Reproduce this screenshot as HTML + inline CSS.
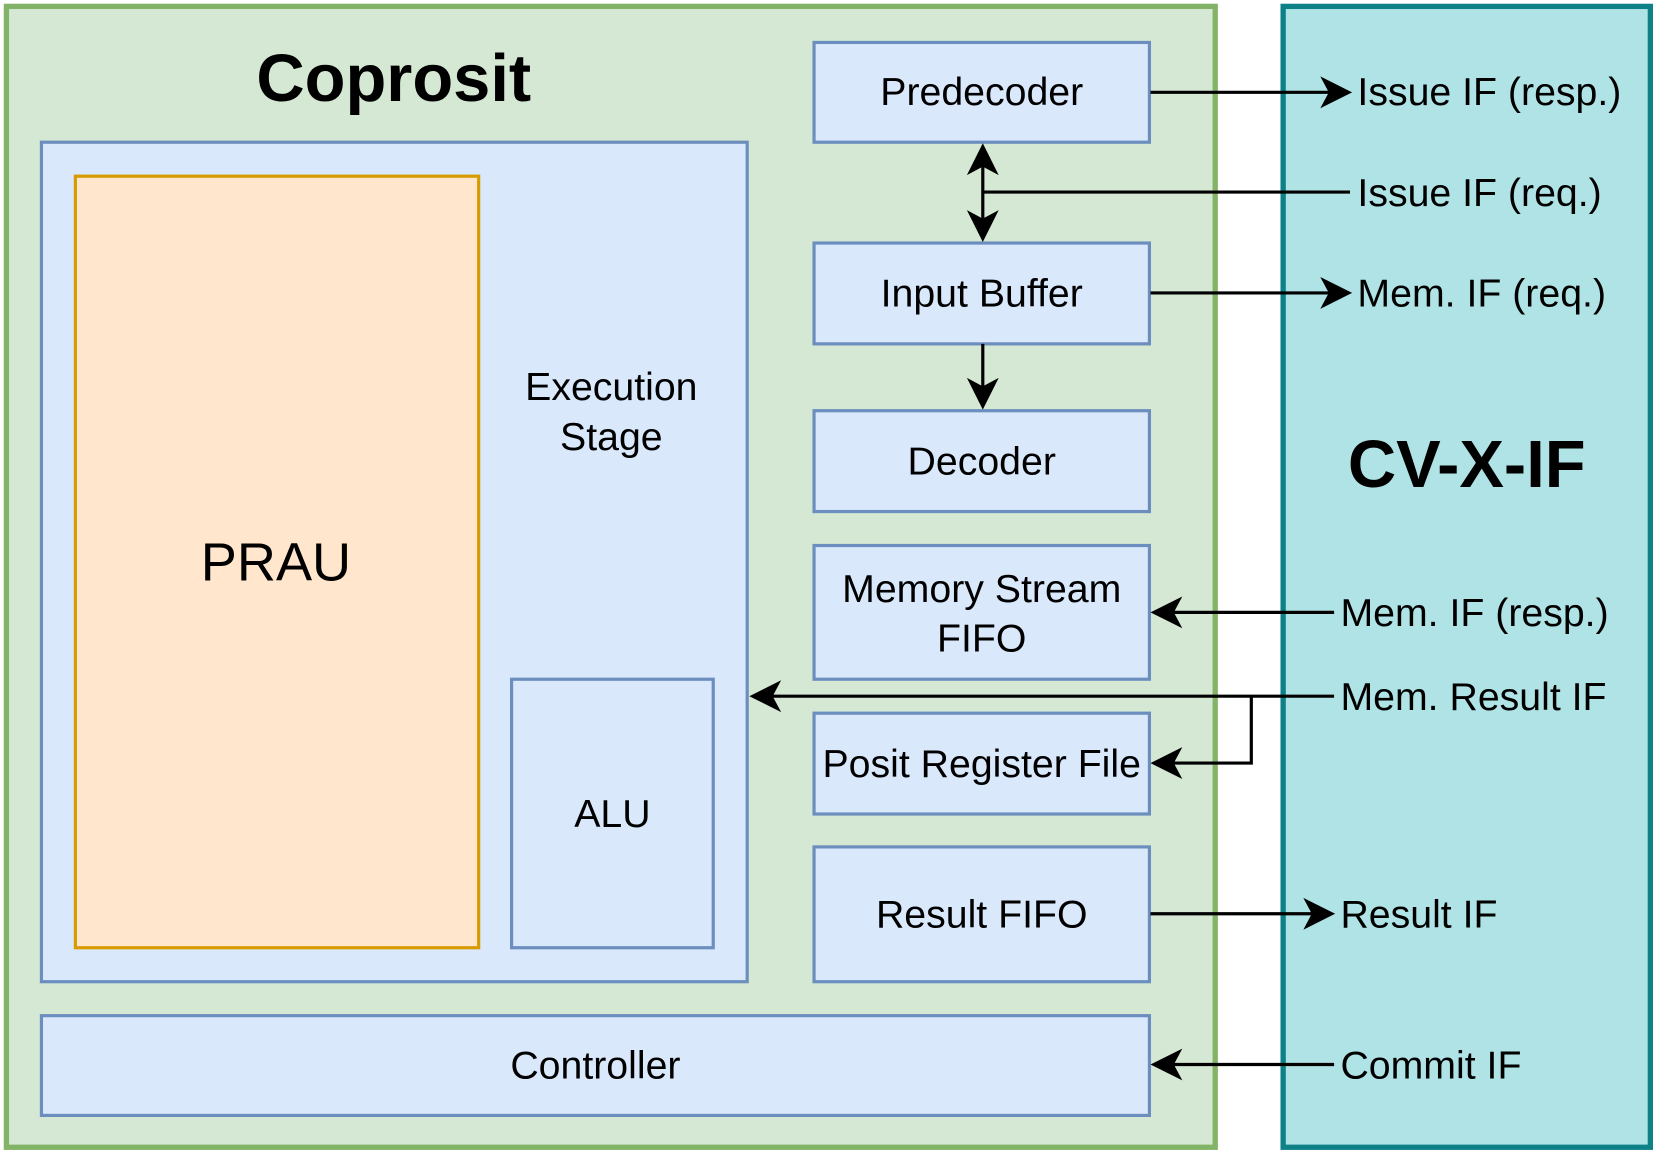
<!DOCTYPE html>
<html><head><meta charset="utf-8"><style>
html,body{margin:0;padding:0;background:#fff;}
svg{display:block;}
text{font-family:"Liberation Sans",Arial,sans-serif;fill:#000;}
</style></head><body>
<svg width="1661" height="1160" viewBox="0 0 1565 1093" xmlns="http://www.w3.org/2000/svg">
<rect x="6" y="6" width="1139" height="1075" fill="#d5e8d4" stroke="#82b366" stroke-width="5"/>
<rect x="1209" y="6" width="346" height="1075" fill="#b0e3e6" stroke="#0e8088" stroke-width="5"/>
<text x="371" y="95" font-size="63" font-weight="bold" text-anchor="middle">Coprosit</text>
<text x="1382" y="459" font-size="63" font-weight="bold" text-anchor="middle">CV-X-IF</text>
<g stroke="#6c8ebf" stroke-width="3" fill="#dae8fc">
<rect x="39" y="134" width="665" height="791"/>
<rect x="482" y="640" width="190" height="253"/>
<rect x="767" y="40" width="316" height="94"/>
<rect x="767" y="229" width="316" height="95"/>
<rect x="767" y="387" width="316" height="95"/>
<rect x="767" y="514" width="316" height="126"/>
<rect x="767" y="672" width="316" height="95"/>
<rect x="767" y="798" width="316" height="127"/>
<rect x="39" y="957" width="1044" height="94"/>
</g>
<rect x="71" y="166" width="380" height="727" fill="#ffe6cc" stroke="#d79b00" stroke-width="3"/>
<g font-size="37" text-anchor="middle">
<text x="260" y="547" font-size="51">PRAU</text>
<text x="576" y="377">Execution</text>
<text x="576" y="424">Stage</text>
<text x="577" y="779">ALU</text>
<text x="925" y="99">Predecoder</text>
<text x="925" y="289">Input Buffer</text>
<text x="925" y="447">Decoder</text>
<text x="925" y="567">Memory Stream</text>
<text x="925" y="614">FIFO</text>
<text x="925" y="732">Posit Register File</text>
<text x="925" y="874">Result FIFO</text>
<text x="561" y="1016">Controller</text>
</g>
<g font-size="37">
<text x="1279" y="99">Issue IF (resp.)</text>
<text x="1279" y="194">Issue IF (req.)</text>
<text x="1279" y="289">Mem. IF (req.)</text>
<text x="1263" y="590">Mem. IF (resp.)</text>
<text x="1263" y="669">Mem. Result IF</text>
<text x="1263" y="874">Result IF</text>
<text x="1263" y="1016">Commit IF</text>
</g>
<g stroke="#000" stroke-width="3" fill="none">
<line x1="1084" y1="87" x2="1260" y2="87"/>
<line x1="1272" y1="181" x2="926" y2="181"/>
<line x1="926" y1="146" x2="926" y2="217"/>
<line x1="1084" y1="276" x2="1260" y2="276"/>
<line x1="926" y1="324" x2="926" y2="375"/>
<line x1="1257" y1="577" x2="1096" y2="577"/>
<line x1="1257" y1="656" x2="718" y2="656"/>
<polyline points="1179,656 1179,719 1096,719"/>
<line x1="1084" y1="861" x2="1245" y2="861"/>
<line x1="1257" y1="1003" x2="1096" y2="1003"/>
</g>
<g fill="#000">
<path d="M1274,87 l-30,-15 l8,15 l-8,15z"/>
<path d="M1274,276 l-30,-15 l8,15 l-8,15z"/>
<path d="M1258,861 l-30,-15 l8,15 l-8,15z"/>
<path d="M1084,577 l30,-15 l-8,15 l8,15z"/>
<path d="M1084,719 l30,-15 l-8,15 l8,15z"/>
<path d="M1084,1003 l30,-15 l-8,15 l8,15z"/>
<path d="M706,656 l30,-15 l-8,15 l8,15z"/>
<path d="M926,135 l-15,30 l15,-8 l15,8z"/>
<path d="M926,228 l-15,-30 l15,8 l15,-8z"/>
<path d="M926,386 l-15,-30 l15,8 l15,-8z"/>
</g>
</svg>
</body></html>
